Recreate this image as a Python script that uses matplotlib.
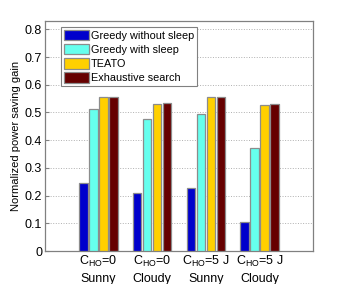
import matplotlib
matplotlib.use('Agg')
import matplotlib.pyplot as plt
import numpy as np

plt.rcParams['font.family'] = ['Liberation Sans', 'DejaVu Sans']
plt.rcParams['mathtext.fontset'] = 'custom'
plt.rcParams['mathtext.rm'] = 'Liberation Sans'
plt.rcParams['mathtext.it'] = 'Liberation Sans'

# Data
groups = ['C$_{\\mathrm{HO}}$=0\nSunny', 'C$_{\\mathrm{HO}}$=0\nCloudy',
          'C$_{\\mathrm{HO}}$=5 J\nSunny', 'C$_{\\mathrm{HO}}$=5 J\nCloudy']
series = ['Greedy without sleep', 'Greedy with sleep', 'TEATO', 'Exhaustive search']
greedy_nosleep = [0.247, 0.209, 0.227, 0.106]
greedy_sleep = [0.513, 0.475, 0.493, 0.373]
teato = [0.557, 0.531, 0.556, 0.528]
exhaustive = [0.557, 0.533, 0.556, 0.530]
colors = ['#0000CC', '#66FFEE', '#FFD000', '#660000']
yticks = [0, 0.1, 0.2, 0.3, 0.4, 0.5, 0.6, 0.7, 0.8]

fig = plt.figure(figsize=(3.46, 2.84), dpi=100)
ax = fig.add_axes([0.130, 0.116, 0.775, 0.810])

x = np.arange(1, len(groups) + 1)
step = 0.187
width = 0.155
data = [greedy_nosleep, greedy_sleep, teato, exhaustive]
for i in range(len(series)):
    ax.bar(x + (i - 1.5) * step, data[i], width, color=colors[i],
           edgecolor='#8c8c8c', linewidth=0.9, label=series[i], zorder=3)

ax.set_xlim(0, 5)
ax.set_ylim(0, 0.83)
ax.set_xticks(x)
ax.set_xticklabels(groups, fontsize=9, linespacing=1.4)
ax.set_yticks(yticks)
ax.set_yticklabels(['0', '0.1', '0.2', '0.3', '0.4', '0.5', '0.6', '0.7', '0.8'], fontsize=9)
ax.set_ylabel('Normalized power saving gain', fontsize=8, labelpad=3)
ax.yaxis.grid(True, linestyle=':', color='#b0b0b0', linewidth=0.7, zorder=0)
ax.tick_params(direction='in', length=3, color='#808080', pad=2)
ax.tick_params(axis='x', length=0, pad=2)
for s in ax.spines.values():
    s.set_color('#808080')
    s.set_linewidth(0.9)

leg = ax.legend(loc='upper left', bbox_to_anchor=(0.05, 0.985), fontsize=7.8,
                handlelength=2.3, handleheight=1.1, handletextpad=0.2,
                labelspacing=0.3, borderpad=0.3, fancybox=False,
                framealpha=1, edgecolor='#808080', borderaxespad=0.2)
leg.get_frame().set_linewidth(0.8)

fig.savefig('out.png', dpi=100)
